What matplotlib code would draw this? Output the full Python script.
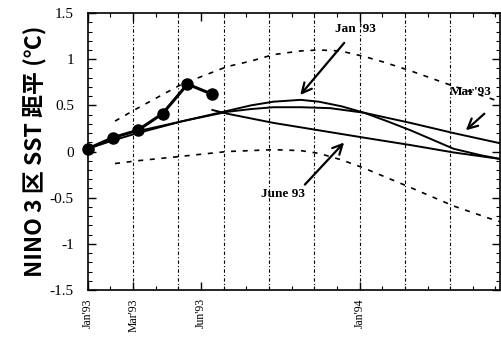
import numpy as np
import matplotlib
matplotlib.use("Agg")
import matplotlib.pyplot as plt
from matplotlib.ticker import MultipleLocator

plt.rcParams['font.family'] = ['Liberation Serif', 'DejaVu Serif']

# months since Jan'93
obs_m = [0, 1.1, 2.2, 3.3, 4.4, 5.5]
obs_v = [0.03, 0.15, 0.23, 0.41, 0.73, 0.62]

up_m = [1.2, 2.2, 4.15, 6.15, 7.2, 8.2, 9.4, 10.2, 11.15, 12.2, 13.05, 14.3, 15.1, 15.9, 18.2]
up_v = [0.33, 0.47, 0.73, 0.92, 0.98, 1.05, 1.09, 1.10, 1.09, 1.03, 0.97, 0.87, 0.80, 0.73, 0.54]

lo_m = [1.2, 2.2, 4.2, 6.15, 8.2, 9.4, 10.2, 11.2, 12.2, 14.25, 16.15, 17.8, 18.2]
lo_v = [-0.13, -0.10, -0.05, 0.0, 0.02, 0.01, -0.02, -0.09, -0.18, -0.39, -0.59, -0.73, -0.76]

jan_m = [0, 1.1, 2.2, 4.2, 6.15, 7.2, 8.2, 9.4, 10.2, 11.2, 12.2, 13.2, 14.25, 15.2, 16.15, 17.35, 18.2]
jan_v = [0.03, 0.12, 0.2, 0.33, 0.44, 0.5, 0.54, 0.56, 0.54, 0.49, 0.42, 0.33, 0.23, 0.13, 0.03, -0.04, -0.08]

mar_m = [2.2, 4.2, 6.15, 7.2, 8.2, 9.4, 10.7, 12.2, 14.25, 16.15, 18.2]
mar_v = [0.22, 0.33, 0.43, 0.46, 0.48, 0.48, 0.47, 0.42, 0.31, 0.2, 0.09]

jun_m = [5.5, 6.15, 8.2, 10.2, 12.2, 14.25, 16.15, 18.2]
jun_v = [0.45, 0.41, 0.31, 0.23, 0.15, 0.07, -0.01, -0.08]

xtick_pos = [0, 2, 5, 12]
xtick_lab = ["Jan'93", "Mar'93", "Jun'93", "Jan'94"]
ytick_pos = [-1.5, -1, -0.5, 0, 0.5, 1, 1.5]
ytick_lab = ["-1.5", "-1", "-0.5", "0", "0.5", "1", "1.5"]

fig = plt.figure(figsize=(5.02, 3.44), dpi=100)
ax = fig.add_axes([0.175, 0.157, 0.821, 0.805])

for g in range(2, 17, 2):
    ax.axvline(g, color='black', lw=0.8, ls=(0, (3, 2, 1, 2)), zorder=1)

ax.plot(up_m, up_v, color='black', lw=1.2, ls=(0, (3, 4)))
ax.plot(lo_m, lo_v, color='black', lw=1.2, ls=(0, (3, 4)))
ax.plot(jan_m, jan_v, color='black', lw=1.4)
ax.plot(mar_m, mar_v, color='black', lw=1.4)
ax.plot(jun_m, jun_v, color='black', lw=1.4)
ax.plot(obs_m, obs_v, color='black', lw=2.2, marker='o', ms=8, clip_on=False, zorder=5)

arrow = dict(arrowstyle='->,head_length=0.7,head_width=0.35', color='black', lw=1.6)
ax.text(11.8, 1.33, "Jan '93", fontsize=9.5, fontweight='bold', ha='center', va='center')
ax.annotate('', xy=(9.3, 0.59), xytext=(11.4, 1.2), arrowprops=arrow)
ax.text(16.9, 0.64, "Mar'93", fontsize=9.5, fontweight='bold', ha='center', va='center')
ax.annotate('', xy=(16.6, 0.21), xytext=(17.6, 0.43), arrowprops=arrow)
ax.text(8.6, -0.46, "June 93", fontsize=9.5, fontweight='bold', ha='center', va='center')
ax.annotate('', xy=(11.4, 0.12), xytext=(9.5, -0.38), arrowprops=arrow)

ax.set_xlim(0, 18.2)
ax.set_ylim(-1.5, 1.5)
ax.set_xticks(xtick_pos)
ax.set_xticklabels(xtick_lab, rotation=90, fontsize=8.5)
ax.xaxis.set_minor_locator(MultipleLocator(1))
ax.set_yticks(ytick_pos)
ax.set_yticklabels(ytick_lab, fontsize=11)
ax.yaxis.set_minor_locator(MultipleLocator(0.1))
ax.tick_params(which='major', direction='in', length=6, width=1.0, top=True, right=True, pad=6)
ax.tick_params(which='minor', direction='in', length=3, width=0.8, top=True, right=True)
ax.tick_params(axis='y', which='major', pad=10)
for s in ax.spines.values():
    s.set_linewidth(1.2)

ax.set_ylabel('NINO 3 区 SST 距平 (℃)', fontsize=16.5, fontweight='bold',
              family=['Noto Sans CJK SC', 'DejaVu Sans'], labelpad=2)

fig.savefig('out.png', dpi=100)
